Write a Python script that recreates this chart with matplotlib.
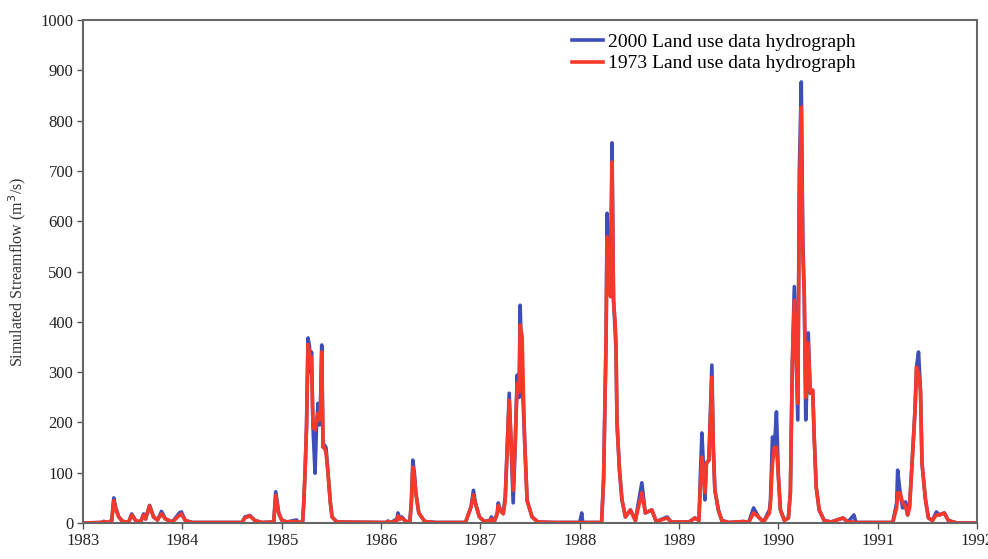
import matplotlib
matplotlib.use("Agg")
import matplotlib.pyplot as plt

# decimal year, simulated flow (m3/s) read off the hydrograph
t = [1983.00, 1983.18, 1983.21, 1983.25, 1983.29, 1983.30, 1983.31, 1983.33, 1983.36, 1983.40,
     1983.46, 1983.49, 1983.53, 1983.58, 1983.61, 1983.63, 1983.67, 1983.71, 1983.75, 1983.79,
     1983.83, 1983.90, 1983.97, 1983.99, 1984.03, 1984.10, 1984.60, 1984.63, 1984.68, 1984.73,
     1984.80, 1984.92, 1984.94, 1984.97, 1985.00, 1985.05, 1985.15, 1985.17, 1985.21, 1985.22,
     1985.235, 1985.25, 1985.265, 1985.28, 1985.29, 1985.30, 1985.315, 1985.336, 1985.35, 1985.366,
     1985.38, 1985.39, 1985.403, 1985.416, 1985.43, 1985.446, 1985.466, 1985.49, 1985.507, 1985.557,
     1986.05, 1986.07, 1986.10, 1986.16, 1986.17, 1986.19, 1986.21, 1986.25, 1986.29, 1986.305,
     1986.32, 1986.335, 1986.35, 1986.38, 1986.44, 1986.55, 1986.85, 1986.906, 1986.93, 1986.95,
     1986.99, 1987.04, 1987.10, 1987.11, 1987.14, 1987.17, 1987.18, 1987.20, 1987.23, 1987.25,
     1987.27, 1987.29, 1987.31, 1987.33, 1987.35, 1987.37, 1987.39, 1987.40, 1987.42, 1987.445,
     1987.47, 1987.52, 1987.58, 1987.75, 1988.00, 1988.02, 1988.03, 1988.22, 1988.24, 1988.265,
     1988.275, 1988.29, 1988.31, 1988.325, 1988.34, 1988.356, 1988.365, 1988.375, 1988.40, 1988.425,
     1988.46, 1988.51, 1988.56, 1988.625, 1988.66, 1988.725, 1988.77, 1988.88, 1988.92, 1989.10,
     1989.16, 1989.20, 1989.215, 1989.23, 1989.26, 1989.275, 1989.30, 1989.33, 1989.345, 1989.36,
     1989.395, 1989.43, 1989.50, 1989.65, 1989.70, 1989.75, 1989.80, 1989.85, 1989.91, 1989.92,
     1989.94, 1989.96, 1989.98, 1990.00, 1990.02, 1990.06, 1990.10, 1990.12, 1990.14, 1990.16,
     1990.18, 1990.195, 1990.21, 1990.23, 1990.245, 1990.26, 1990.275, 1990.29, 1990.30, 1990.32,
     1990.345, 1990.36, 1990.38, 1990.41, 1990.46, 1990.53, 1990.65, 1990.70, 1990.76, 1990.78,
     1991.15, 1991.19, 1991.20, 1991.225, 1991.25, 1991.28, 1991.30, 1991.32, 1991.345, 1991.375,
     1991.39, 1991.41, 1991.43, 1991.445, 1991.48, 1991.51, 1991.55, 1991.59, 1991.62, 1991.67,
     1991.71, 1991.76, 1991.80, 1992.00]

q2000 = [0, 1, 3, 1, 5, 30, 50, 30, 12, 3,
         2, 18, 5, 2, 18, 8, 35, 12, 6, 23,
         8, 2, 20, 22, 5, 1, 1, 12, 15, 5,
         1, 2, 62, 20, 6, 2, 6, 1, 2, 32,
         100, 191, 368, 350, 300, 340, 191, 99, 190, 238,
         195, 230, 354, 151, 155, 150, 100, 40, 12, 2,
         1, 4, 1, 8, 20, 8, 12, 3, 2, 40,
         125, 100, 60, 20, 3, 1, 1, 32, 65, 40,
         12, 3, 6, 12, 3, 20, 40, 25, 20, 52,
         150, 258, 150, 40, 150, 294, 250, 433, 290, 165,
         45, 12, 2, 1, 1, 20, 1, 1, 86, 364,
         616, 500, 470, 756, 443, 384, 344, 200, 105, 46,
         12, 26, 5, 80, 20, 26, 3, 12, 2, 2,
         10, 5, 100, 179, 46, 119, 125, 314, 145, 66,
         26, 5, 1, 3, 1, 30, 12, 2, 26, 46,
         171, 150, 221, 91, 26, 5, 10, 60, 318, 470,
         318, 205, 696, 877, 569, 453, 205, 290, 378, 258,
         264, 171, 72, 26, 5, 2, 10, 2, 16, 1,
         1, 40, 105, 60, 30, 42, 16, 36, 119, 225,
         310, 340, 264, 119, 46, 10, 5, 22, 16, 20,
         5, 2, 0, 0]

q1973 = [0, 1, 3, 1, 5, 25, 45, 28, 12, 3,
         2, 16, 5, 2, 16, 8, 34, 12, 6, 18,
         8, 2, 15, 18, 5, 1, 1, 10, 14, 5,
         1, 2, 55, 20, 6, 2, 3, 1, 2, 32,
         100, 191, 355, 338, 310, 330, 191, 185, 200, 218,
         205, 225, 340, 151, 150, 140, 100, 40, 12, 2,
         1, 3, 1, 5, 14, 8, 10, 3, 2, 40,
         111, 95, 60, 20, 3, 1, 1, 32, 56, 38,
         12, 3, 5, 8, 3, 18, 35, 25, 18, 45,
         150, 244, 160, 65, 160, 278, 260, 394, 370, 165,
         45, 12, 2, 1, 1, 1, 1, 1, 86, 364,
         569, 480, 450, 718, 443, 400, 360, 200, 105, 46,
         12, 26, 5, 60, 20, 26, 3, 10, 2, 2,
         10, 5, 80, 131, 60, 119, 125, 290, 145, 66,
         26, 5, 1, 3, 1, 20, 12, 2, 20, 40,
         119, 150, 151, 91, 26, 5, 10, 60, 318, 443,
         318, 238, 636, 827, 537, 453, 250, 290, 358, 258,
         264, 171, 72, 26, 5, 2, 10, 2, 2, 1,
         1, 30, 60, 60, 40, 32, 16, 30, 119, 225,
         310, 298, 264, 119, 46, 10, 5, 16, 16, 20,
         5, 2, 0, 0]

years = list(range(1983, 1993))
yticks = list(range(0, 1001, 100))

plt.rcParams['font.family'] = ['Liberation Serif', 'DejaVu Serif']

fig = plt.figure(figsize=(9.88, 5.59), dpi=100)
ax = fig.add_axes([0.084, 0.0644, 0.905, 0.8996])

ax.plot(t, q2000, color='#3d4eb8', lw=2.6, label='2000 Land use data hydrograph')
ax.plot(t, q1973, color='#f5392a', lw=2.6, label='1973 Land use data hydrograph')

ax.set_xlim(1983, 1992)
ax.set_ylim(0, 1000)
ax.set_xticks(years)
ax.set_xticklabels([str(y) for y in years])
ax.set_yticks(yticks)
ax.tick_params(axis='both', direction='out', length=4, width=1, colors='#555555',
               labelcolor='#222222', labelsize=12, pad=3)

for s in ax.spines.values():
    s.set_color('#666666')
    s.set_linewidth(1.5)

ax.set_ylabel('Simulated Streamflow (m$^3$/s)', fontsize=11.5, color='#333333', labelpad=9)

ax.legend(loc='upper left', bbox_to_anchor=(0.547, 0.974), frameon=False, fontsize=14,
          handlelength=1.6, handletextpad=0.25, labelspacing=0.2, borderpad=0, borderaxespad=0)

fig.savefig('out.png', dpi=100)
